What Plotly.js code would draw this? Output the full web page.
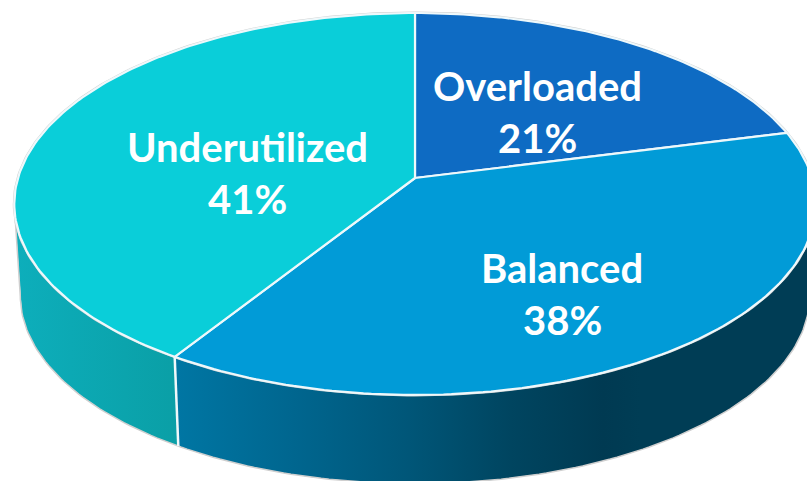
<!DOCTYPE html>
<html>
<head>
<meta charset="utf-8">
<script src="https://cdn.plot.ly/plotly-3.0.1.min.js"></script>
<style>html,body{margin:0;padding:0;background:#fff}#chart{width:807px;height:481px}</style>
</head>
<body>
<div id="chart"></div>
<script>
// Data
const categories = ["Overloaded", "Balanced", "Underutilized"];
const shares = [21, 38, 41];

// Styles
const topColors = ["#0E6BC3", "#019BD7", "#0ACED9"];
const sideScales = [
  null,
  [[0, "#0076A3"], [0.25, "#00668F"], [0.5, "#005678"], [0.72, "#004560"], [0.92, "#003A52"], [1, "#003D55"]],
  [[0, "#0DAEBB"], [1, "#0A9FA6"]]
];
const sideSpans = [null, [178, 640], [18, 178]];
const labelAnchors = [[537, 86, 138], [562, 268, 320], [247, 147, 199]];

// Pie geometry in the picture's own coordinates (tilted disc under perspective)
const apex = {x: 415, y: 178}, rx = 397, ry = 187.45, persp = 0.136;
const depth = 92, baseScale = 0.985;
const rightExtreme = 98, leftExtreme = 262; // degrees where the wall's silhouette leaves the rim

function project(deg, level) {
  const t = deg * Math.PI / 180, u = Math.sin(t), v = Math.cos(t), d = 1 + persp * v;
  const s = level ? baseScale : 1;
  return [apex.x + s * rx * u / d, apex.y - s * ry * v / d + (level ? depth : 0)];
}
function arc(a, b, level) {
  const out = [], n = Math.max(2, Math.ceil(Math.abs(b - a)));
  for (let i = 0; i <= n; i++) out.push(project(a + (b - a) * i / n, level));
  return out;
}
const xs = p => p.map(q => q[0]), ys = p => p.map(q => q[1]);

const total = shares.reduce((a, b) => a + b, 0);
let acc = 0;
const spans = shares.map(s => { const a = acc / total * 360; acc += s; return [a, acc / total * 360]; });

const traces = [];
const line = (pts, color, width) => traces.push({
  x: xs(pts), y: ys(pts), type: "scatter", mode: "lines", hoverinfo: "skip",
  line: {color, width, shape: "linear"}, showlegend: false
});

// Side walls, clipped to the visible front of the disc
spans.forEach((sp, i) => {
  if (!sideScales[i]) return;
  const a = Math.max(sp[0], rightExtreme), b = Math.min(sp[1], leftExtreme);
  const pts = arc(a, b, 0).concat(arc(b, a, 1));
  traces.push({
    x: xs(pts), y: ys(pts), type: "scatter", mode: "lines", fill: "toself", hoverinfo: "skip",
    line: {width: 0, color: "rgba(0,0,0,0)"}, showlegend: false,
    fillgradient: {type: "horizontal", colorscale: sideScales[i], start: sideSpans[i][0], stop: sideSpans[i][1]}
  });
});
// Grey outer outlines
const silhouette = [project(rightExtreme, 0)].concat(arc(rightExtreme, leftExtreme, 1), [project(leftExtreme, 0)]);
line(silhouette, "#CFCFCF", 1.5);
line(arc(0, 360, 0), "#CFCFCF", 3);
// Wall separator
line([project(spans[1][1], 0), project(spans[1][1], 1)], "#F0F8FA", 2.5);
// Top slices
spans.forEach((sp, i) => {
  const pts = [[apex.x, apex.y]].concat(arc(sp[0], sp[1], 0), [[apex.x, apex.y]]);
  traces.push({
    x: xs(pts), y: ys(pts), type: "scatter", mode: "lines", fill: "toself", hoverinfo: "skip",
    fillcolor: topColors[i], line: {color: "#EEF8FB", width: 2.2}, showlegend: false
  });
});

// Labels
const annotations = [];
categories.forEach((c, i) => {
  const a = labelAnchors[i];
  const base = {x: a[0], xref: "x", yref: "y", showarrow: false, xanchor: "center", yanchor: "middle",
    font: {family: "Lato, sans-serif", size: 40, color: "#FFFFFF", weight: 700}};
  annotations.push(Object.assign({}, base, {y: a[1], text: "<b>" + c + "</b>"}));
  annotations.push(Object.assign({}, base, {y: a[2], text: "<b>" + shares[i] + "%</b>"}));
});

Plotly.newPlot("chart", traces, {
  width: 807, height: 481,
  margin: {l: 0, r: 0, t: 0, b: 0},
  paper_bgcolor: "#FFFFFF", plot_bgcolor: "#FFFFFF",
  showlegend: false,
  xaxis: {range: [0, 807], visible: false, fixedrange: true},
  yaxis: {range: [481, 0], visible: false, fixedrange: true},
  annotations
}, {displayModeBar: false, staticPlot: true});
</script>
</body>
</html>
